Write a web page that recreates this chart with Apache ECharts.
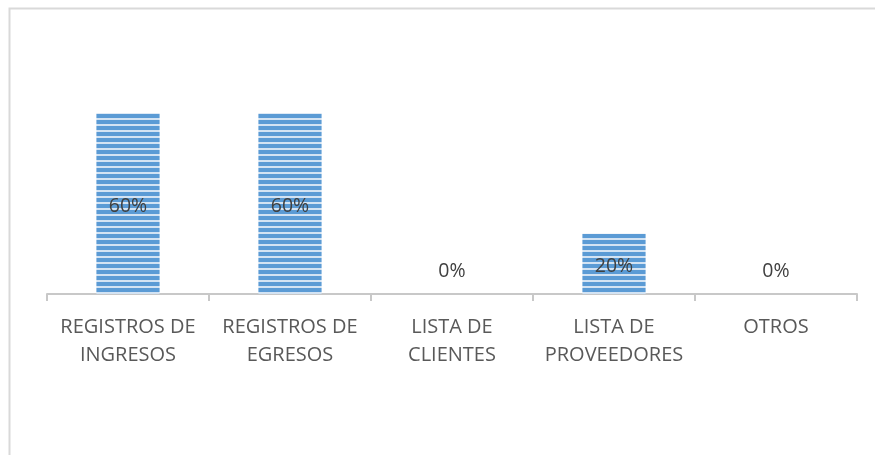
<!DOCTYPE html>
<html><head><meta charset="utf-8">
<script src="https://cdn.jsdelivr.net/npm/echarts@6/dist/echarts.min.js"></script>
<style>html,body{margin:0;padding:0;background:#fff}#c{width:875px;height:455px}</style>
</head><body><div id="c"></div>
<script>
const categories = ['REGISTROS DE\nINGRESOS', 'REGISTROS DE\nEGRESOS', 'LISTA DE\nCLIENTES', 'LISTA DE\nPROVEEDORES', 'OTROS'];
const values = [0.60, 0.60, 0.00, 0.20, 0.00];

function stripes() {
  const c = document.createElement('canvas');
  c.width = 8; c.height = 6;
  const g = c.getContext('2d');
  g.fillStyle = '#5b9bd5'; g.fillRect(0, 0, 8, 6);
  g.fillStyle = '#d3e3f3'; g.fillRect(0, 4, 8, 2);
  return c;
}

const chart = echarts.init(document.getElementById('c'), null, {renderer: 'canvas'});
const FONT = '"Open Sans", "Liberation Sans", sans-serif';
chart.setOption({
  animation: false,
  backgroundColor: '#fff',
  graphic: [{
    type: 'rect', shape: {x: 9.5, y: 8.5, width: 900, height: 500},
    style: {fill: 'none', stroke: '#d9d9d9', lineWidth: 2}, silent: true, z: -1
  }],
  grid: {left: 47, right: 18, top: 83, bottom: 161},
  xAxis: {
    type: 'category', data: categories,
    axisLine: {lineStyle: {color: '#c8c8c8', width: 2}},
    axisTick: {show: true, length: 7, lineStyle: {color: '#c8c8c8', width: 2}},
    axisLabel: {color: '#595959', fontFamily: FONT, fontSize: 20, lineHeight: 28, margin: 19, interval: 0}
  },
  yAxis: {type: 'value', min: 0, max: 0.7, show: false, splitLine: {show: false}},
  series: [{
    type: 'bar', barWidth: '39%',
    itemStyle: {color: {image: stripes(), repeat: 'repeat'}},
    data: values.map(v => ({
      value: v,
      label: v === 0 ? {position: 'top', distance: 13} : {position: 'inside', offset: [0, 3]}
    })),
    label: {
      show: true, color: '#404040', fontFamily: FONT, fontSize: 19.5,
      formatter: p => Math.round(p.value * 100) + '%'
    }
  }]
});
</script></body></html>
